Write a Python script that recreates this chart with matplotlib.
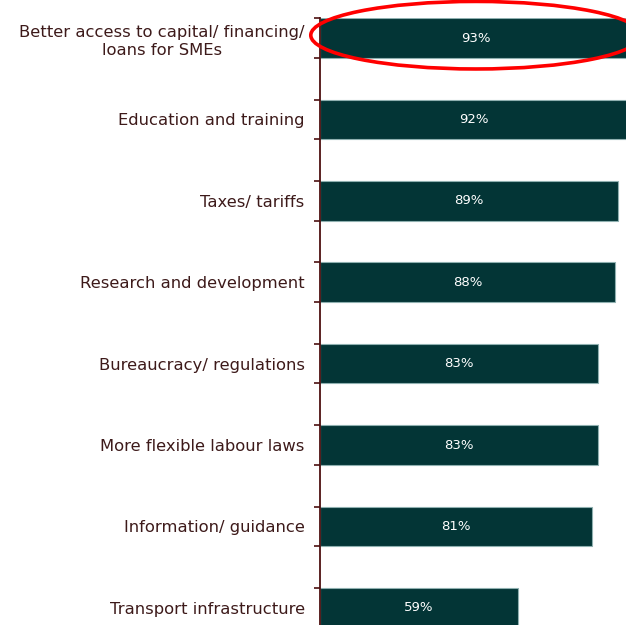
import matplotlib.pyplot as plt
from matplotlib.patches import Ellipse

categories = [
    "Better access to capital/ financing/\nloans for SMEs",
    "Education and training",
    "Taxes/ tariffs",
    "Research and development",
    "Bureaucracy/ regulations",
    "More flexible labour laws",
    "Information/ guidance",
    "Transport infrastructure",
]
values = [93, 92, 89, 88, 83, 83, 81, 59]
value_labels = ["93%", "92%", "89%", "88%", "83%", "83%", "81%", "59%"]

bar_color = "#033536"
axis_color = "#4d1010"
text_color = "#3d1a1a"
bar_h = 0.485

fig = plt.figure(figsize=(6.26, 6.25), dpi=100)
ax = fig.add_axes([320 / 626, -0.0246, 306 / 626, 0.9953])

pos = list(range(len(values)))
ax.barh(pos, values, height=bar_h, color=bar_color, edgecolor="#8fb0b0", linewidth=0.8)

for p, v, lab in zip(pos, values, value_labels):
    ax.text(v / 2, p, lab, color="white", fontsize=9.5, ha="center", va="center")

ax.set_xlim(0, 91.26)
ax.set_ylim(7.4, -bar_h / 2)

# highlight the top item
ax.add_patch(Ellipse((values[0] / 2, -0.035), 98.5, 0.83, fill=False,
                     edgecolor="#ff0000", linewidth=2.6, clip_on=False, zorder=5))

for side in ["top", "right", "bottom"]:
    ax.spines[side].set_visible(False)
ax.spines["left"].set_color(axis_color)
ax.spines["left"].set_linewidth(1.3)
ax.set_xticks([])

ax.set_yticks(pos)
ax.set_yticklabels(categories, color=text_color, fontsize=11.8,
                   multialignment="center", linespacing=1.3)
ax.tick_params(axis="y", which="major", length=0, pad=11)
edges = [p + d for p in pos for d in (-bar_h / 2, bar_h / 2)]
ax.set_yticks(edges, minor=True)
ax.tick_params(axis="y", which="minor", length=4, width=1.2, color=axis_color)

fig.savefig("out.png", dpi=100)
